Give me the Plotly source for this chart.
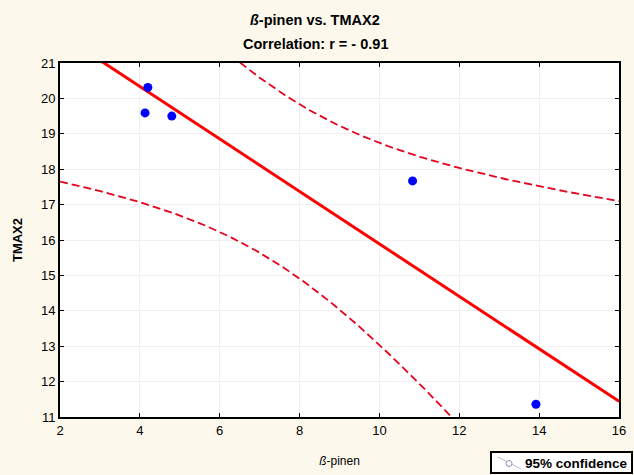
import numpy as np
import plotly.graph_objects as go

# Data
beta_pinen = [4.20, 4.13, 4.80, 10.83, 13.92]
tmax2 = [20.31, 19.59, 19.50, 17.67, 11.36]
x_ticks = [2, 4, 6, 8, 10, 12, 14, 16]
y_ticks = [11, 12, 13, 14, 15, 16, 17, 18, 19, 20, 21]
t_crit = 3.182  # t(0.975, df=3)

x = np.array(beta_pinen)
y = np.array(tmax2)
n = len(x)
xm, ym = x.mean(), y.mean()
sxx = ((x - xm) ** 2).sum()
slope = ((x - xm) * (y - ym)).sum() / sxx
icpt = ym - slope * xm
resid = y - (icpt + slope * x)
s = np.sqrt((resid ** 2).sum() / (n - 2))

xg = np.linspace(x_ticks[0], x_ticks[-1], 300)
yhat = icpt + slope * xg
half = t_crit * s * np.sqrt(1.0 / n + (xg - xm) ** 2 / sxx)

FONT = "Liberation Sans, Arial"
W, H = 634, 475
ML, MR, MT, MB = 60, 15, 63, 58
PW, PH = W - ML - MR, H - MT - MB


def px(xp):
    return (xp - ML) / PW


def py(yp):
    return (H - MB - yp) / PH


fig = go.Figure()
for band in (yhat + half, yhat - half):
    fig.add_trace(go.Scatter(x=xg, y=band, mode="lines",
                             line=dict(color="#E8001C", width=1.8, dash="8px,4px"),
                             showlegend=False, hoverinfo="skip"))
fig.add_trace(go.Scatter(x=xg, y=yhat, mode="lines",
                         line=dict(color="#FF0000", width=3),
                         showlegend=False))
fig.add_trace(go.Scatter(x=beta_pinen, y=tmax2, mode="markers",
                         marker=dict(color="#0000FF", size=9),
                         showlegend=False, cliponaxis=False))

axis_common = dict(
    showline=True, linecolor="black", linewidth=2, mirror="allticks",
    ticks="inside", ticklen=4, tickcolor="black", tickwidth=1,
    showgrid=True, gridcolor="#F0F0F0", gridwidth=1, zeroline=False,
    automargin=False,
    tickfont=dict(family=FONT, size=13, color="black"),
)

# manual legend box (bottom-right corner)
shapes = [
    dict(type="rect", xref="paper", yref="paper",
         x0=px(491), x1=px(632), y0=py(473), y1=py(452),
         fillcolor="white", line=dict(color="black", width=2), layer="above"),
    dict(type="line", xref="paper", yref="paper",
         x0=px(498), x1=px(521), y0=py(457), y1=py(469),
         line=dict(color="#B8B8CC", width=1), layer="above"),
    dict(type="circle", xref="paper", yref="paper",
         x0=px(506), x1=px(512), y0=py(466.5), y1=py(460.5),
         line=dict(color="#9090B8", width=1), fillcolor="white", layer="above"),
]

fig.update_layout(
    width=W, height=H,
    margin=dict(l=ML, r=MR, t=MT, b=MB),
    paper_bgcolor="#FCF8EB",
    plot_bgcolor="white",
    showlegend=False,
    font=dict(family=FONT, size=13, color="black"),
    xaxis=dict(range=[2, 16], tickvals=x_ticks,
               title=dict(text="<i>ß</i>-pinen", standoff=20,
                          font=dict(size=12)), **axis_common),
    yaxis=dict(range=[11, 21], tickvals=y_ticks,
               title=dict(text="<b>TMAX2</b>", standoff=15,
                          font=dict(size=13)), **axis_common),
    shapes=shapes,
    annotations=[
        dict(text="<b><i>ß</i>-pinen vs. TMAX2</b>", xref="paper", yref="paper",
             x=px(315), y=1.0, yshift=43, xanchor="center", yanchor="middle",
             showarrow=False, font=dict(family=FONT, size=14.5, color="black")),
        dict(text="<b>Correlation: r = - 0.91</b>", xref="paper", yref="paper",
             x=px(315), y=1.0, yshift=19, xanchor="center", yanchor="middle",
             showarrow=False, font=dict(family=FONT, size=14.5, color="black")),
        dict(text="<b>95% confidence</b>", xref="paper", yref="paper",
             x=px(523), y=py(463), xanchor="left", yanchor="middle",
             showarrow=False, font=dict(family=FONT, size=13.5, color="black")),
    ],
)

fig.write_html("out.html", config={"displayModeBar": False},
               post_script="document.body.style.margin='0';document.body.style.padding='0';")
